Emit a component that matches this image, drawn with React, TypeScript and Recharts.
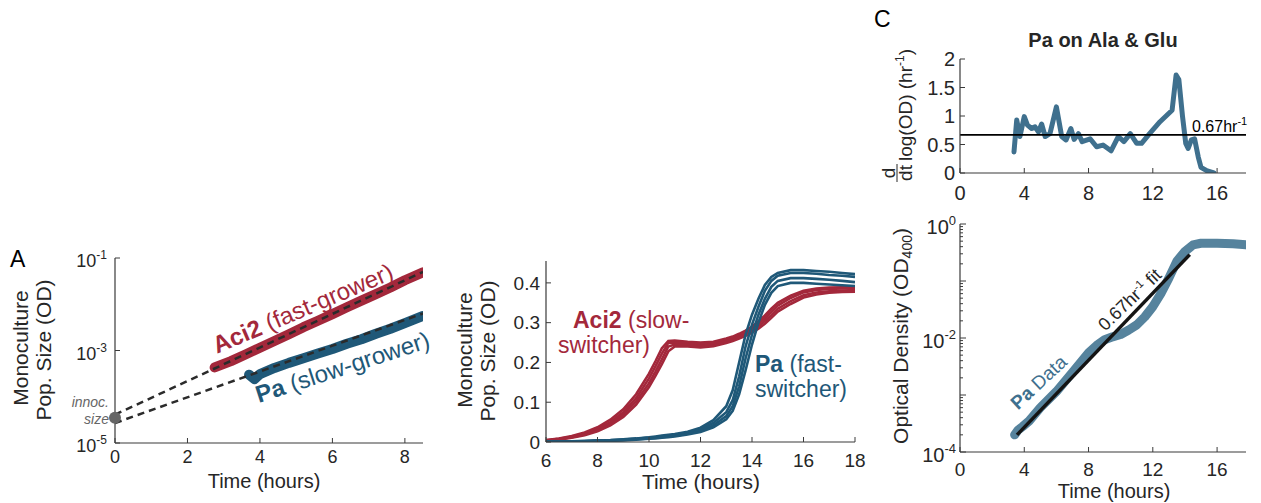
import React from 'react';
import { LineChart, Line, XAxis, YAxis, ReferenceDot, ReferenceLine } from 'recharts';

const FONT = '"Liberation Sans", Arial, Helvetica, sans-serif';
const TXT = '#262626';
const AXIS = '#3a3a3a';
const RED = '#a3283b';
const BLUE = '#1f5878';
const C_BLUE = '#3f708e';
const C_BLUE2 = '#56839d';

// ---------- Panel A (log growth, early hours) ----------
const aTicksX = [0, 2, 4, 6, 8];
const aTicksY = [1e-5, 1e-3, 1e-1];
const aciTimeA = [2.75, 3.2, 3.6, 4.0, 4.4, 4.8, 5.2, 5.6, 6.0, 6.4, 6.8, 7.2, 7.6, 8.0, 8.5];
const aciOdA = [4.3e-4, 5.9e-4, 8.2e-4, 1.15e-3, 1.6e-3, 2.25e-3, 3.2e-3, 4.4e-3, 6.1e-3, 8.6e-3, 1.2e-2, 1.65e-2, 2.3e-2, 3.3e-2, 4.9e-2];
const paTimeA = [3.7, 3.85, 4.0, 4.4, 4.8, 5.2, 5.6, 6.0, 6.4, 6.8, 7.2, 7.6, 8.0, 8.5];
const paOdA = [3.0e-4, 2.4e-4, 3.1e-4, 4.2e-4, 5.4e-4, 6.8e-4, 8.6e-4, 1.08e-3, 1.4e-3, 1.75e-3, 2.3e-3, 2.95e-3, 3.9e-3, 5.6e-3];
const aciFitTime = [0, 8.5];
const aciFitOd = [4.1e-5, 0.05];
const paFitTime = [0, 8.5];
const paFitOd = [2.7e-5, 6.3e-3];
const innocTime = 0;
const innocOd = 3.5e-5;

// ---------- Panel B (linear OD, replicates) ----------
const bTicksX = [6, 8, 10, 12, 14, 16, 18];
const bTicksY = [0, 0.1, 0.2, 0.3, 0.4];
const bTime = [6, 6.5, 7, 7.5, 8, 8.5, 9, 9.5, 10, 10.25, 10.5, 10.75, 11, 11.5, 12, 12.5, 13, 13.25, 13.5, 13.75, 14, 14.25, 14.5, 14.75, 15, 15.5, 16, 16.5, 17, 17.5, 18];
const aciRep1 = [0.005, 0.009, 0.015, 0.024, 0.037, 0.056, 0.082, 0.12, 0.172, 0.203, 0.236, 0.254, 0.255, 0.252, 0.25, 0.252, 0.26, 0.265, 0.272, 0.28, 0.29, 0.303, 0.318, 0.335, 0.35, 0.368, 0.38, 0.386, 0.388, 0.389, 0.39];
const aciRep2 = [0.004, 0.008, 0.013, 0.021, 0.033, 0.05, 0.075, 0.11, 0.16, 0.19, 0.222, 0.249, 0.25, 0.248, 0.246, 0.249, 0.257, 0.262, 0.268, 0.276, 0.285, 0.297, 0.311, 0.327, 0.343, 0.362, 0.376, 0.382, 0.385, 0.386, 0.387];
const aciRep3 = [0.003, 0.007, 0.012, 0.019, 0.03, 0.046, 0.069, 0.102, 0.148, 0.177, 0.208, 0.24, 0.245, 0.244, 0.242, 0.245, 0.253, 0.258, 0.264, 0.271, 0.28, 0.291, 0.304, 0.319, 0.335, 0.354, 0.369, 0.376, 0.379, 0.381, 0.382];
const aciRep4 = [0.003, 0.006, 0.011, 0.017, 0.027, 0.042, 0.063, 0.094, 0.138, 0.166, 0.196, 0.228, 0.24, 0.24, 0.238, 0.241, 0.249, 0.254, 0.26, 0.267, 0.275, 0.285, 0.297, 0.312, 0.328, 0.347, 0.363, 0.371, 0.375, 0.377, 0.378];
const paRep1 = [0.001, 0.001, 0.002, 0.003, 0.004, 0.005, 0.007, 0.009, 0.012, 0.014, 0.016, 0.018, 0.02, 0.026, 0.036, 0.055, 0.09, 0.13, 0.2, 0.27, 0.32, 0.36, 0.395, 0.415, 0.425, 0.432, 0.432, 0.43, 0.428, 0.425, 0.422];
const paRep2 = [0.001, 0.001, 0.002, 0.002, 0.003, 0.004, 0.006, 0.008, 0.011, 0.012, 0.014, 0.016, 0.018, 0.024, 0.032, 0.048, 0.075, 0.105, 0.165, 0.24, 0.295, 0.34, 0.38, 0.405, 0.418, 0.425, 0.425, 0.423, 0.42, 0.418, 0.415];
const paRep3 = [0, 0.001, 0.001, 0.002, 0.003, 0.004, 0.005, 0.007, 0.009, 0.011, 0.012, 0.014, 0.016, 0.021, 0.028, 0.042, 0.065, 0.09, 0.14, 0.21, 0.27, 0.32, 0.36, 0.39, 0.405, 0.412, 0.412, 0.41, 0.408, 0.405, 0.402];
const paRep4 = [0, 0.001, 0.001, 0.002, 0.002, 0.003, 0.004, 0.006, 0.008, 0.009, 0.011, 0.012, 0.014, 0.019, 0.025, 0.037, 0.057, 0.078, 0.12, 0.18, 0.245, 0.3, 0.345, 0.375, 0.392, 0.4, 0.4, 0.398, 0.396, 0.394, 0.392];

// ---------- Panel C top (growth rate) ----------
const cTicksX = [0, 4, 8, 12, 16];
const cTopTicksY = [0, 0.5, 1, 1.5, 2];
const cRateTime = [3.36, 3.53, 3.73, 4.0, 4.2, 4.46, 4.67, 4.88, 5.08, 5.3, 5.6, 6.0, 6.33, 6.6, 6.9, 7.1, 7.37, 7.6, 8.1, 8.5, 8.9, 9.4, 9.85, 10.2, 10.6, 11.0, 11.3, 11.8, 12.45, 13.2, 13.45, 13.62, 13.85, 14.05, 14.2, 14.4, 14.6, 14.83, 15.0, 15.35, 15.8];
const cRate = [0.37, 0.93, 0.64, 0.99, 0.84, 0.78, 0.81, 0.72, 0.86, 0.64, 0.69, 1.16, 0.64, 0.58, 0.78, 0.59, 0.69, 0.55, 0.6, 0.46, 0.49, 0.39, 0.64, 0.55, 0.69, 0.52, 0.52, 0.69, 0.9, 1.1, 1.72, 1.64, 0.99, 0.52, 0.43, 0.58, 0.6, 0.28, 0.1, 0.04, 0.0];
const fitRate = 0.67;

// ---------- Panel C bottom (OD, log) ----------
const cBotTicksMajor = [1e-4, 1e-2, 1];
const cOdTime = [3.4, 3.6, 3.9, 4.3, 5.0, 6.0, 7.0, 8.0, 8.5, 9.0, 9.5, 10.0, 10.5, 11.0, 11.5, 12.0, 12.5, 13.0, 13.5, 14.0, 14.5, 15.0, 16.0, 17.0, 17.8];
const cOd = [2.0e-4, 2.4e-4, 2.8e-4, 3.5e-4, 6.0e-4, 1.15e-3, 2.5e-3, 5.5e-3, 7.4e-3, 9.3e-3, 1.05e-2, 1.15e-2, 1.38e-2, 1.7e-2, 2.35e-2, 3.55e-2, 6.0e-2, 0.112, 0.224, 0.33, 0.43, 0.46, 0.46, 0.45, 0.43];
const cFitTime = [3.55, 14.3];
const cFitOd = [2.0e-4, 0.29];

const mk = (ts: number[], vs: number[]) => ts.map((t, i) => ({ t, v: vs[i] }));

const cBotTicks: number[] = [];
[-4, -3, -2, -1].forEach((k) => {
  for (let m = 1; m <= 9; m++) cBotTicks.push(m * Math.pow(10, k));
});
cBotTicks.push(1);

function xTick(margin: number, len: number, fs: number) {
  return (p: any) => {
    const { x, y, payload } = p;
    const ay = y - margin;
    return (
      <g>
        <line x1={x} x2={x} y1={ay} y2={ay - len} stroke={AXIS} strokeWidth={1} />
        <text x={x} y={y + fs * 0.36} textAnchor="middle" fontSize={fs} fill={TXT} fontFamily={FONT}>
          {String(payload.value)}
        </text>
      </g>
    );
  };
}

function yTick(margin: number, len: number, fs: number) {
  return (p: any) => {
    const { x, y, payload } = p;
    const ax = x + margin;
    return (
      <g>
        <line x1={ax} x2={ax + len} y1={y} y2={y} stroke={AXIS} strokeWidth={1} />
        <text x={x} y={y + fs * 0.36} textAnchor="end" fontSize={fs} fill={TXT} fontFamily={FONT}>
          {String(payload.value)}
        </text>
      </g>
    );
  };
}

function logTick(margin: number, fs: number, supFs: number, labeled: number[], majorLen: number, minorLen: number) {
  return (p: any) => {
    const { x, y, payload } = p;
    const v = payload.value as number;
    const ax = x + margin;
    const lg = Math.log10(v);
    const e = Math.round(lg);
    const isDecade = Math.abs(lg - e) < 1e-6;
    const isLabeled = labeled.some((l) => Math.abs(Math.log10(l) - lg) < 1e-6);
    return (
      <g>
        <line x1={ax} x2={ax + (isDecade ? majorLen : minorLen)} y1={y} y2={y} stroke={AXIS} strokeWidth={1} />
        {isLabeled && (
          <text x={x} y={y + 3 + fs * 0.36} textAnchor="end" fontSize={fs} fill={TXT} fontFamily={FONT}>
            <tspan>10</tspan>
            <tspan dy={-fs * 0.45} fontSize={supFs}>{String(e)}</tspan>
          </text>
        )}
      </g>
    );
  };
}

export default function App() {
  const aciA = mk(aciTimeA, aciOdA);
  const paA = mk(paTimeA, paOdA);
  const aciFit = mk(aciFitTime, aciFitOd);
  const paFit = mk(paFitTime, paFitOd);
  const aciReps = [aciRep1, aciRep2, aciRep3, aciRep4].map((r) => mk(bTime, r));
  const paReps = [paRep1, paRep2, paRep3, paRep4].map((r) => mk(bTime, r));
  const rate = mk(cRateTime, cRate);
  const od = mk(cOdTime, cOd);
  const fit = mk(cFitTime, cFitOd);

  const axisLine = { stroke: AXIS, strokeWidth: 1.2 };

  return (
    <div style={{ position: 'absolute', left: 0, top: 0, width: 1261, height: 503, background: '#fff', fontFamily: FONT, overflow: 'hidden' }}>
      {/* Panel A */}
      <div style={{ position: 'absolute', left: 0, top: 240 }}>
        <LineChart width={440} height={263} margin={{ top: 18, right: 17, bottom: 30, left: 55 }}>
          <XAxis dataKey="t" type="number" domain={[0, 8.5]} ticks={aTicksX} allowDataOverflow height={30}
            tickSize={0} tickMargin={14} tickLine={false} axisLine={axisLine} interval={0} tick={xTick(14, 5, 18)} />
          <YAxis type="number" scale="log" domain={[1e-5, 1e-1]} ticks={aTicksY} allowDataOverflow width={60}
            tickSize={0} tickMargin={8} tickLine={false} axisLine={axisLine} interval={0} tick={logTick(8, 18, 12, aTicksY, 5, 3)} />
          <Line data={aciA} dataKey="v" stroke={RED} strokeWidth={10} strokeLinecap="round" strokeLinejoin="round" dot={false} isAnimationActive={false} />
          <Line data={paA} dataKey="v" stroke={BLUE} strokeWidth={10} strokeLinecap="round" strokeLinejoin="round" dot={false} isAnimationActive={false} />
          <Line data={aciFit} dataKey="v" stroke="#2b2b2b" strokeWidth={2.5} strokeDasharray="7 5" dot={false} isAnimationActive={false} />
          <Line data={paFit} dataKey="v" stroke="#2b2b2b" strokeWidth={2.5} strokeDasharray="7 5" dot={false} isAnimationActive={false} />
          <ReferenceDot x={innocTime} y={innocOd} r={6} fill="#666" stroke="none" ifOverflow="visible" />
        </LineChart>
      </div>

      {/* Panel B */}
      <div style={{ position: 'absolute', left: 440, top: 240 }}>
        <LineChart width={440} height={263} margin={{ top: 21, right: 25, bottom: 31, left: 46 }}>
          <XAxis dataKey="t" type="number" domain={[6, 18]} ticks={bTicksX} allowDataOverflow height={30}
            tickSize={0} tickMargin={18} tickLine={false} axisLine={axisLine} interval={0} tick={xTick(18, 5, 19)} />
          <YAxis type="number" domain={[0, 0.455]} ticks={bTicksY} allowDataOverflow width={60}
            tickSize={0} tickMargin={6} tickLine={false} axisLine={axisLine} interval={0} tick={yTick(6, 5, 19)} />
          {aciReps.map((d, i) => (
            <Line key={'a' + i} data={d} dataKey="v" stroke={RED} strokeWidth={2.6} dot={false} isAnimationActive={false} />
          ))}
          {paReps.map((d, i) => (
            <Line key={'p' + i} data={d} dataKey="v" stroke={BLUE} strokeWidth={2.6} dot={false} isAnimationActive={false} />
          ))}
        </LineChart>
      </div>

      {/* Panel C top */}
      <div style={{ position: 'absolute', left: 860, top: 0 }}>
        <LineChart width={401} height={210} margin={{ top: 59, right: 15, bottom: 7, left: 40 }}>
          <XAxis dataKey="t" type="number" domain={[0, 17.8]} ticks={cTicksX} allowDataOverflow height={30}
            tickSize={0} tickMargin={20} tickLine={false} axisLine={axisLine} interval={0} tick={xTick(20, 5, 20)} />
          <YAxis type="number" domain={[0, 2]} ticks={cTopTicksY} allowDataOverflow width={60}
            tickSize={0} tickMargin={5} tickLine={false} axisLine={axisLine} interval={0} tick={yTick(5, 5, 20)} />
          <Line data={rate} dataKey="v" stroke={C_BLUE} strokeWidth={5} strokeLinecap="round" strokeLinejoin="round" dot={false} isAnimationActive={false} />
          <ReferenceLine y={fitRate} stroke="#000" strokeWidth={1.8} />
        </LineChart>
      </div>

      {/* Panel C bottom */}
      <div style={{ position: 'absolute', left: 860, top: 200 }}>
        <LineChart width={401} height={303} margin={{ top: 24, right: 15, bottom: 21, left: 40 }}>
          <XAxis dataKey="t" type="number" domain={[0, 17.8]} ticks={cTicksX} allowDataOverflow height={30}
            tickSize={0} tickMargin={17} tickLine={false} axisLine={axisLine} interval={0} tick={xTick(17, 5, 19)} />
          <YAxis type="number" scale="log" domain={[1e-4, 1]} ticks={cBotTicks} allowDataOverflow width={60}
            tickSize={0} tickMargin={4} tickLine={false} axisLine={axisLine} interval={0} tick={logTick(4, 20, 13, cBotTicksMajor, 6, 3)} />
          <Line data={od} dataKey="v" stroke={C_BLUE2} strokeWidth={9} strokeLinecap="round" strokeLinejoin="round" dot={false} isAnimationActive={false} />
          <Line data={fit} dataKey="v" stroke="#141414" strokeWidth={3.5} dot={false} isAnimationActive={false} />
        </LineChart>
      </div>

      {/* Text overlay */}
      <svg width={1261} height={503} style={{ position: 'absolute', left: 0, top: 0, pointerEvents: 'none' }} fontFamily={FONT}>
        {/* Panel letters */}
        <text x={10} y={267} fontSize={23} fill="#000">A</text>
        <text x={874} y={27} fontSize={23} fill="#000">C</text>

        {/* Panel A labels */}
        <text transform="translate(28,348) rotate(-90)" textAnchor="middle" fontSize={21} fill={TXT}>Monoculture</text>
        <text transform="translate(51,350) rotate(-90)" textAnchor="middle" fontSize={21} fill={TXT}>Pop. Size (OD)</text>
        <text x={264} y={488} textAnchor="middle" fontSize={20} fill={TXT}>Time (hours)</text>
        <text x={109} y={407} textAnchor="end" fontSize={14} fontStyle="italic" fill="#666">innoc.</text>
        <text x={109} y={424} textAnchor="end" fontSize={14} fontStyle="italic" fill="#666">size</text>
        <text transform="translate(306,316) rotate(-23)" textAnchor="middle" fontSize={24} fill={RED}>
          <tspan fontWeight="bold">Aci2</tspan>
          <tspan>{' (fast-grower)'}</tspan>
        </text>
        <text transform="translate(345,375) rotate(-18)" textAnchor="middle" fontSize={24} fill={BLUE}>
          <tspan fontWeight="bold">Pa</tspan>
          <tspan>{' (slow-grower)'}</tspan>
        </text>

        {/* Panel B labels */}
        <text transform="translate(472,350) rotate(-90)" textAnchor="middle" fontSize={21} fill={TXT}>Monoculture</text>
        <text transform="translate(495,351) rotate(-90)" textAnchor="middle" fontSize={21} fill={TXT}>Pop. Size (OD)</text>
        <text x={701} y={489} textAnchor="middle" fontSize={21} fill={TXT}>Time (hours)</text>
        <text x={573} y={328} fontSize={23} fill={RED}>
          <tspan fontWeight="bold">Aci2</tspan>
          <tspan>{' (slow-'}</tspan>
        </text>
        <text x={558} y={353} fontSize={23} fill={RED}>switcher)</text>
        <text x={755} y={372} fontSize={23} fill={BLUE}>
          <tspan fontWeight="bold">Pa</tspan>
          <tspan>{' (fast-'}</tspan>
        </text>
        <text x={755} y={397} fontSize={23} fill={BLUE}>switcher)</text>

        {/* Panel C top labels */}
        <text x={1103} y={47} textAnchor="middle" fontSize={20} fontWeight="bold" fill={TXT}>Pa on Ala &amp; Glu</text>
        <text x={1192} y={132} fontSize={16} fill="#000">
          <tspan>0.67hr</tspan>
          <tspan dy={-7} fontSize={11}>-1</tspan>
        </text>
        <g transform="translate(912,182) rotate(-90)" fill={TXT}>
          <text x={9} y={-17} fontSize={19} textAnchor="middle">d</text>
          <line x1={0} x2={18} y1={-15} y2={-15} stroke={TXT} strokeWidth={1} />
          <text x={9} y={0} fontSize={19} textAnchor="middle">dt</text>
          <text x={21} y={0} fontSize={19}>
            <tspan>log(OD) (hr</tspan>
            <tspan dy={-8} fontSize={12}>-1</tspan>
            <tspan dy={8}>)</tspan>
          </text>
        </g>

        {/* Panel C bottom labels */}
        <text transform="translate(908,336) rotate(-90)" textAnchor="middle" fontSize={21} fill={TXT}>
          <tspan>Optical Density (OD</tspan>
          <tspan dy={4} fontSize={14}>400</tspan>
          <tspan dy={-4}>)</tspan>
        </text>
        <text x={1114} y={498} textAnchor="middle" fontSize={20} fill={TXT}>Time (hours)</text>
        <text transform="translate(1043,387) rotate(-43)" textAnchor="middle" fontSize={19} fill={C_BLUE}>
          <tspan fontWeight="bold">Pa</tspan>
          <tspan>{' Data'}</tspan>
        </text>
        <text transform="translate(1134,304) rotate(-44)" textAnchor="middle" fontSize={18} fill={TXT}>
          <tspan>0.67hr</tspan>
          <tspan dy={-7} fontSize={11}>-1</tspan>
          <tspan dy={7}>{' fit'}</tspan>
        </text>
      </svg>
    </div>
  );
}
